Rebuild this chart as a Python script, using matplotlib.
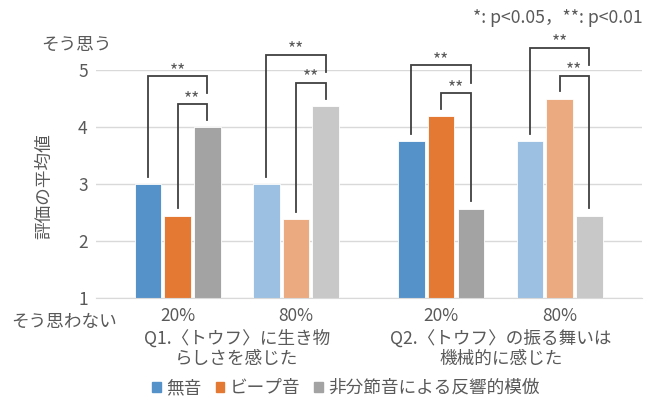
import matplotlib
matplotlib.use("Agg")
import matplotlib.pyplot as plt
import numpy as np

plt.rcParams['font.family'] = ['Noto Sans CJK JP', 'DejaVu Sans']

# ---- data ----
tick_labels = ["20%", "80%", "20%", "80%"]
questions = ["Q1.〈トウフ〉に生き物\nらしさを感じた", "Q2.〈トウフ〉の振る舞いは\n機械的に感じた"]
series = ["無音", "ビープ音", "非分節音による反響的模倣"]
silent = [3.00, 3.00, 3.75, 3.75]
beep = [2.45, 2.39, 4.19, 4.50]
mimic = [4.00, 4.37, 2.57, 2.45]
# significance brackets: (group index, left bar, right bar, label)
inner_pairs = [(0, 1, 2, "**"), (1, 1, 2, "**"), (2, 1, 2, "**"), (3, 1, 2, "**")]
outer_pairs = [(0, 0, 2, "**"), (1, 0, 2, "**"), (2, 0, 2, "**"), (3, 0, 2, "**")]

dark_cols = ["#5592C9", "#E47934", "#A3A3A3"]
light_cols = ["#9CC0E2", "#EBAA80", "#C8C8C8"]
text_col = "#595959"
line_col = "#404040"
fs_jp = 12.7

W, H = 656, 401
fig = plt.figure(figsize=(W / 100, H / 100), dpi=100)
ax = fig.add_axes([96 / W, (H - 298.3) / H, (642 - 96) / W, (298.3 - 70) / H])

gap = 0.224
pos = np.array([i + (gap if i >= 2 else 0) for i in range(4)])
bw = 0.224
off = 0.251
vals = np.array([silent, beep, mimic])

for s in range(3):
    for g in range(4):
        col = dark_cols[s] if g % 2 == 0 else light_cols[s]
        ax.bar(pos[g] + (s - 1) * off, vals[s, g] - 1, bottom=1, width=bw,
               color=col, edgecolor="white", linewidth=0.6, zorder=2)

ax.set_ylim(1, 5)
ax.set_xlim(-0.688, 3.92)
ax.set_yticks([1, 2, 3, 4, 5])
ax.set_yticklabels(["1", "2", "3", "4", "5"], fontsize=12.5, color=text_col)
ax.grid(axis="y", color="#D9D9D9", linewidth=1.0, zorder=0)
for sp in ["top", "right", "left"]:
    ax.spines[sp].set_visible(False)
ax.spines["bottom"].set_color("#D9D9D9")
ax.tick_params(axis="y", length=0, pad=6)
ax.set_xticks(pos)
ax.set_xticklabels(tick_labels, fontsize=12.5, color=text_col)
ax.tick_params(axis="x", length=0, pad=6)

# brackets
def bar_x(g, b):
    return pos[g] + (b - 1) * off

leg = 0.13
star_dy = 0.01
inner_top = {}
for g, a, b, lab in inner_pairs:
    top = max(vals[a:b + 1, g]) + 0.40
    inner_top[g] = top
    xa, xb = bar_x(g, a), bar_x(g, b)
    ax.plot([xa, xa, xb, xb], [vals[a, g] + leg, top, top, vals[b, g] + leg],
            color=line_col, lw=1.3, clip_on=False, zorder=3, solid_joinstyle="miter")
    ax.text((xa + xb) / 2, top + star_dy, lab, ha="center", va="baseline",
            fontsize=12.5, color=text_col, clip_on=False)
for g, a, b, lab in outer_pairs:
    top = inner_top[g] + 0.49
    xa, xb = bar_x(g, a), bar_x(g, b)
    ax.plot([xa, xa, xb, xb], [vals[a, g] + leg, top, top, inner_top[g] + 0.19],
            color=line_col, lw=1.3, clip_on=False, zorder=3, solid_joinstyle="miter")
    ax.text((xa + xb) / 2, top + star_dy, lab, ha="center", va="baseline",
            fontsize=12.5, color=text_col, clip_on=False)

# category labels
def px(x, y):
    return x / W, 1 - y / H

fig.text(*px(237, 349), questions[0], ha="center", va="center", fontsize=fs_jp,
         color=text_col, linespacing=1.15, multialignment="center")
fig.text(*px(501, 349), questions[1], ha="center", va="center", fontsize=fs_jp,
         color=text_col, linespacing=1.15, multialignment="center")

fig.text(*px(44, 186), "評価の平均値", rotation=90, ha="center", va="center",
         fontsize=fs_jp, color=text_col)
fig.text(*px(76, 45), "そう思う", ha="center", va="center", fontsize=fs_jp, color=text_col)
fig.text(*px(64, 322), "そう思わない", ha="center", va="center", fontsize=fs_jp, color=text_col)
fig.text(*px(643, 18), "*: p<0.05，**: p<0.01", ha="right", va="center",
         fontsize=fs_jp, color=text_col)

# legend
handles = [plt.Rectangle((0, 0), 1, 1, color=c) for c in dark_cols]
fig.legend(handles, series, loc="center", bbox_to_anchor=px(346, 388),
           ncol=3, frameon=False, fontsize=fs_jp, handlelength=0.5, handleheight=0.5,
           handletextpad=0.3, columnspacing=0.8, labelcolor=text_col)

fig.savefig("out.png", dpi=100)
